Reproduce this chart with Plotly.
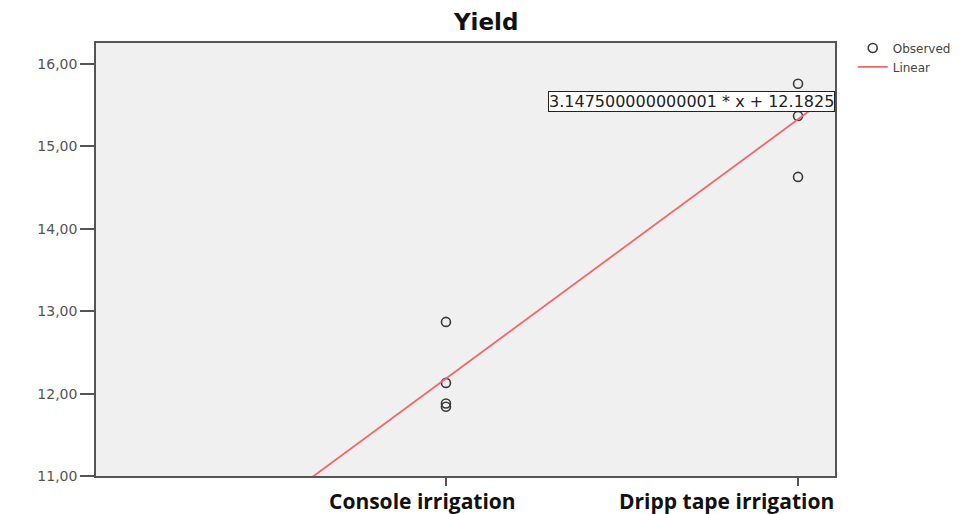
import plotly.graph_objects as go

# ---- data ----
categories = ["Console irrigation", "Dripp tape irrigation"]
cat_codes = [0, 1]
console_yield = [12.87, 12.13, 11.88, 11.84]
dripp_yield = [15.76, 15.37, 14.63]
slope = 3.147500000000001
intercept = 12.1825
y_ticks = [11, 12, 13, 14, 15, 16]
x_range = [-0.994, 1.105]
y_range = [11.0, 16.255]

obs_x = [cat_codes[0]] * len(console_yield) + [cat_codes[1]] * len(dripp_yield)
obs_y = console_yield + dripp_yield

line_x = [x_range[0], x_range[1]]
line_y = [slope * v + intercept for v in line_x]

fig = go.Figure()
fig.add_trace(go.Scatter(
    x=obs_x, y=obs_y, mode="markers", name="Observed",
    marker=dict(symbol="circle-open", size=9, color="#3a3a3a", line=dict(width=1.6)),
))
fig.add_trace(go.Scatter(
    x=line_x, y=line_y, mode="lines", name="Linear",
    line=dict(color="#f06868", width=1.8),
))

fig.add_annotation(
    x=1, xref="paper", xanchor="right", y=15.55, yref="y", yanchor="middle",
    text=f"{slope} * x + {intercept}", showarrow=False,
    font=dict(family="DejaVu Sans", size=16, color="#222"),
    bgcolor="white", bordercolor="#222", borderwidth=1, borderpad=0,
)

label_pos = [-0.068, 0.798]
for lab, pos in zip(categories, label_pos):
    fig.add_annotation(
        x=pos, xref="x", y=0, yref="paper", yshift=-25, yanchor="middle",
        text=f"<b>{lab}</b>", showarrow=False,
        font=dict(family="Open Sans", size=21, color="#111"),
    )

# page body has an 8px margin; margins below are compensated for it
fig.update_layout(
    width=974, height=514,
    margin=dict(l=88, r=147, t=35, b=46),
    paper_bgcolor="white", plot_bgcolor="#f0f0f0",
    title=dict(text="<b>Yield</b>", x=0.491, xanchor="center", y=0.973, yanchor="middle",
               font=dict(family="DejaVu Sans", size=23, color="#111")),
    showlegend=True,
    legend=dict(x=1.024, y=1.022, xanchor="left", yanchor="top",
                font=dict(family="DejaVu Sans", size=12, color="#444"),
                bgcolor="rgba(0,0,0,0)", itemwidth=30, tracegroupgap=0),
)
fig.update_xaxes(
    range=x_range, tickvals=cat_codes, ticktext=["", ""],
    ticks="outside", ticklen=8, tickcolor="#555", tickwidth=1.5,
    showgrid=False, zeroline=False, showline=True, linecolor="#555", linewidth=1.5, mirror=True,
)
fig.update_yaxes(
    range=y_range, tickvals=y_ticks, tickformat=".2f",
    ticks="outside", ticklen=14, tickcolor="#555", tickwidth=1.5,
    tickfont=dict(family="DejaVu Sans", size=14, color="#555"),
    showgrid=False, zeroline=False, showline=True, linecolor="#555", linewidth=1.5, mirror=True,
)
fig.update_layout(separators=",.")

fig.write_html("out.html")
